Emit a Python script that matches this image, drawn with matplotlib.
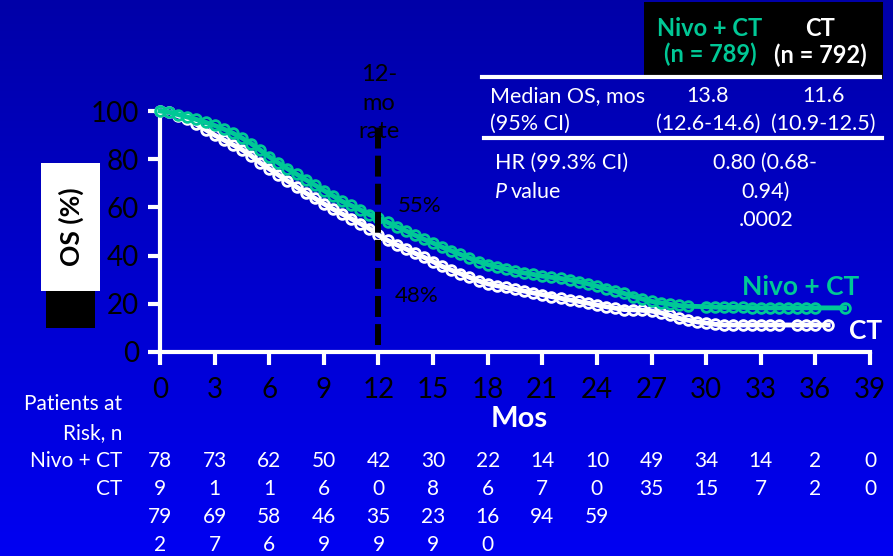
import numpy as np
import matplotlib
matplotlib.use("Agg")
import matplotlib.pyplot as plt
from matplotlib.patches import Rectangle

plt.rcParams['font.family'] = ['Lato', 'DejaVu Sans']

W, H = 893, 556
GREEN = '#00C896'

# KM curves (months, OS %)
nivo_t = [0, 0.5, 1, 1.5, 2, 2.5, 3, 3.5, 4, 4.5, 5, 5.5, 6, 6.5, 7, 7.5, 8, 8.5, 9, 9.5,
          10, 10.5, 11, 11.5, 12, 12.5, 13, 13.5, 14, 14.5, 15, 15.5, 16, 16.5, 17, 17.5,
          18, 18.5, 19, 19.5, 20, 20.5, 21, 21.5, 22, 22.5, 23, 23.5, 24, 24.5, 25, 25.5,
          26, 26.5, 27, 27.5, 28, 28.5, 29, 30, 30.5, 31, 31.5, 32, 32.5, 33, 33.5, 34,
          34.5, 35, 35.5, 36, 37.6]
nivo_s = [100, 99.5, 98.5, 97.5, 96.5, 95.3, 94, 92.5, 90.8, 88.8, 86.5, 83.8, 81, 78.5,
          76, 73.8, 71.5, 69.3, 67, 64.8, 62.5, 60.8, 59, 57, 55.5, 53.8, 52, 50.3, 48.5,
          46.8, 45.2, 43.5, 42, 40.5, 39, 37.5, 36.3, 35.3, 34.5, 33.5, 32.8, 32.2, 31.5,
          31, 30.5, 30, 29.2, 28.3, 27.3, 26.3, 25.3, 24.3, 23, 22, 21, 20.4, 19.8, 19.3,
          19, 18.8, 18.6, 18.5, 18.5, 18.5, 18.4, 18.3, 18.3, 18.3, 18.3, 18.3, 18.3,
          18.3, 18.3]

ct_t = [0, 0.5, 1, 1.5, 2, 2.5, 3, 3.5, 4, 4.5, 5, 5.5, 6, 6.5, 7, 7.5, 8, 8.5, 9, 9.5,
        10, 10.5, 11, 11.5, 12, 12.5, 13, 13.5, 14, 14.5, 15, 15.5, 16, 16.5, 17, 17.5,
        18, 18.5, 19, 19.5, 20, 20.5, 21, 21.5, 22, 22.5, 23, 23.5, 24, 24.5, 25, 25.5,
        26, 26.5, 27, 27.5, 28, 28.5, 29, 29.5, 30, 30.5, 31, 31.5, 32, 32.5, 33, 33.5,
        34, 35, 35.5, 36, 36.7]
ct_s = [100, 99.5, 98, 96.5, 94.5, 92.3, 90, 88, 86, 84, 81.5, 78.5, 76, 73.5, 71, 68.5,
        66, 63.8, 61.5, 59.3, 57.3, 55.3, 53.3, 51.2, 48.5, 46.3, 44.5, 42.8, 41, 39.3,
        37.5, 35.5, 34, 32.5, 31, 29.5, 28.3, 27.5, 26.8, 26, 25.3, 24.5, 23.8, 23, 22.3,
        21.6, 21, 20.3, 19.5, 18.8, 18.2, 17.6, 17.5, 17.3, 17, 16.3, 15.2, 14, 13.2,
        12.5, 12, 11.5, 11.2, 11.2, 11.2, 11.2, 11.2, 11.2, 11.2, 11.2, 11.2, 11.2, 11.2]

x_ticks = list(range(0, 40, 3))
y_ticks = list(range(0, 101, 20))

nivo_at_risk = [789, 731, 621, 506, 420, 308, 226, 147, 100, 49, 34, 14, 2, 0]
ct_at_risk = [792, 697, 586, 469, 359, 239, 160, 94, 59, 35, 15, 7, 2, 0]


def px(x, y):
    return x / W, 1 - y / H


fig = plt.figure(figsize=(W / 100, H / 100), dpi=100)

# background gradient, dark blue at top to bright blue at bottom
bg = fig.add_axes([0, 0, 1, 1], zorder=-10)
grad = np.linspace(0, 1, 256)
blue = np.zeros((256, 1, 3))
blue[:, 0, 2] = (168 + (242 - 168) * grad) / 255
bg.imshow(blue, aspect='auto', extent=[0, 1, 0, 1])
bg.axis('off')

x0, y0 = px(160, 352)
x1, y1 = px(870, 111)
ax = fig.add_axes([x0, y0, x1 - x0, y1 - y0])
ax.set_facecolor('none')

ax.plot(nivo_t, nivo_s, color=GREEN, lw=3.5, marker='o', ms=7, mfc='none',
        mew=2, clip_on=False, zorder=3)
ax.plot(ct_t, ct_s, color='white', lw=3.5, marker='o', ms=7, mfc='none',
        mew=2, clip_on=False, zorder=2)

# 12-month landmark
ax.plot([12, 12], [2.9, 95.4], color='black', lw=4.3, ls=(0, (3.5, 1.2)),
        zorder=4, clip_on=False)

ax.set_xlim(0, 39)
ax.set_ylim(0, 100)
ax.set_xticks(x_ticks)
ax.set_yticks(y_ticks)
for s in ['top', 'right']:
    ax.spines[s].set_visible(False)
for s in ['left', 'bottom']:
    ax.spines[s].set_color('white')
    ax.spines[s].set_linewidth(3)
ax.tick_params(axis='both', color='white', labelcolor='black', length=9,
               width=3, labelsize=20)
ax.tick_params(axis='x', pad=9)
ax.tick_params(axis='y', pad=6)

# y label box
fig.patches.append(Rectangle(px(41, 291), 59 / W, 128 / H, transform=fig.transFigure,
                             facecolor='white', edgecolor='none'))
fig.patches.append(Rectangle(px(46, 328), 49 / W, 37 / H, transform=fig.transFigure,
                             facecolor='black', edgecolor='none'))
fig.text(*px(71, 227), 'OS (%)', rotation=90, ha='center', va='center',
         fontsize=19, fontweight='bold', color='black')

# landmark annotations
for txt, y in [('12-', 74), ('mo', 103), ('rate', 131)]:
    fig.text(*px(379, y), txt, ha='center', va='center', fontsize=17, color='black')
fig.text(*px(420, 206), '55%', ha='center', va='center', fontsize=16, color='black')
fig.text(*px(417, 296), '48%', ha='center', va='center', fontsize=16, color='black')

# curve labels
fig.text(*px(742, 287), 'Nivo + CT', ha='left', va='center', fontsize=19,
         fontweight='bold', color=GREEN)
fig.text(*px(849, 331), 'CT', ha='left', va='center', fontsize=19,
         fontweight='bold', color='white')

fig.text(*px(519, 419), 'Mos', ha='center', va='center', fontsize=21,
         fontweight='bold', color='white')

# summary table
fig.patches.append(Rectangle(px(644, 79), 239 / W, 77 / H, transform=fig.transFigure,
                             facecolor='black', edgecolor='none'))
fig.text(*px(710, 28), 'Nivo + CT', ha='center', va='center', fontsize=17,
         fontweight='bold', color=GREEN)
fig.text(*px(710, 54), '(n = 789)', ha='center', va='center', fontsize=17,
         fontweight='bold', color=GREEN)
fig.text(*px(820, 28), 'CT', ha='center', va='center', fontsize=17,
         fontweight='bold', color='white')
fig.text(*px(820, 55), '(n = 792)', ha='center', va='center', fontsize=17,
         fontweight='bold', color='white')
for ly, xa, xb in [(77, 482, 880), (138, 484, 882)]:
    fig.add_artist(plt.Line2D([xa / W, xb / W], [1 - ly / H, 1 - ly / H],
                              transform=fig.transFigure, color='white', lw=3))

rows = [('Median OS, mos', 490, 96), ('(95% CI)', 490, 124),
        ('HR (99.3% CI)', 495, 163)]
for txt, x, y in rows:
    fig.text(*px(x, y), txt, ha='left', va='center', fontsize=15.5, color='white')
fig.text(*px(495, 192), 'P', ha='left', va='center', fontsize=15.5, color='white',
         style='italic')
fig.text(*px(511, 192), 'value', ha='left', va='center', fontsize=15.5, color='white')

cells = [('13.8', 708, 96), ('(12.6-14.6)', 708, 124), ('11.6', 823, 96),
         ('(10.9-12.5)', 823, 124), ('0.80 (0.68-', 765, 163), ('0.94)', 766, 192),
         ('.0002', 766, 220)]
for txt, x, y in cells:
    fig.text(*px(x, y), txt, ha='center', va='center', fontsize=15.5, color='white')

# patients at risk
for txt, y in [('Patients at', 404), ('Risk, n', 433), ('Nivo + CT', 461), ('CT', 489)]:
    fig.text(*px(122, y), txt, ha='right', va='center', fontsize=15, color='white')

row_y0, row_dy = 461, 28
for m, n_nivo, n_ct in zip(x_ticks, nivo_at_risk, ct_at_risk):
    xd = ax.transData.transform((m, 0))[0] / fig.dpi / fig.get_figwidth()
    s1, s2 = str(n_nivo), str(n_ct)
    lines = [s1[i:i + 2] for i in range(0, len(s1), 2)] + \
            [s2[i:i + 2] for i in range(0, len(s2), 2)]
    for k, ln in enumerate(lines):
        fig.text(xd, 1 - (row_y0 + k * row_dy) / H, ln, ha='center', va='center',
                 fontsize=15, color='white')

fig.savefig('out.png', dpi=100)
